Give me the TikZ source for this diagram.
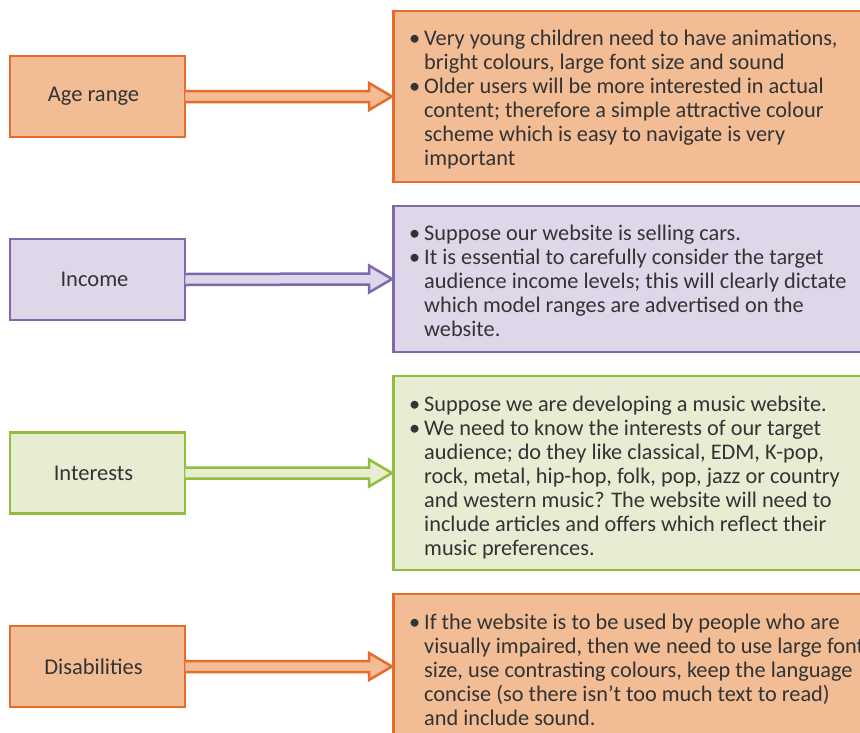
\documentclass[tikz,border=0pt]{standalone}
\usepackage{fontspec}
\setmainfont{Carlito}
\usetikzlibrary{calc}
\definecolor{ofill}{HTML}{F2BC95}
\definecolor{oline}{HTML}{E56C2B}
\definecolor{pfill}{HTML}{DDD7E9}
\definecolor{pline}{HTML}{7F69AC}
\definecolor{gfill}{HTML}{E6EDD2}
\definecolor{gline}{HTML}{93BD3D}
\definecolor{txt}{HTML}{333333}
\newcommand{\bul}{\llap{\textbullet\hspace{4pt}}}
\tikzset{
  lbox/.style={draw=#1line, fill=#1fill, line width=2.5pt, minimum width=175, minimum height=81, inner sep=0pt,
    text=txt, font=\fontsize{22.5}{24}\selectfont},
  rbox/.style={draw=#1line, fill=#1fill, line width=2.5pt, anchor=west, minimum width=490, inner sep=0pt},
  rtext/.style={anchor=north west, align=left, inner sep=0pt, text=txt, font=\fontsize{22.3}{24}\selectfont},
  fatarrow/.style={draw=#1line, fill=#1fill, line width=2.5pt, line join=miter},
}
\newcommand{\fatarr}[3]{%
  \filldraw[fatarrow=#3] ($(#1.east)+(-1,-5.5)$) -- ($(#2.west)+(-23,-5.5)$) -- ($(#2.west)+(-23,-13.5)$) -- (#2.west)
    -- ($(#2.west)+(-23,13.5)$) -- ($(#2.west)+(-23,5.5)$) -- ($(#1.east)+(-1,5.5)$);}
\begin{document}
\begin{tikzpicture}[x=1pt,y=-1pt]
\clip (0,0) rectangle (860,732);
\fill[white] (0,0) rectangle (860,732);
% right boxes
\node[rbox=o, minimum height=171] (r1) at (392,96.5) {};
\node[rbox=p, minimum height=146] (r2) at (392,279) {};
\node[rbox=g, minimum height=194] (r3) at (392,473) {};
\node[rbox=o, minimum height=145] (r4) at (392,666.5) {};
% left boxes
\node[lbox=o] (l1) at (97.5,96.5) {Age range\kern8pt};
\node[lbox=p] (l2) at (97.5,279.5) {Income\kern6pt};
\node[lbox=g] (l3) at (97.5,473) {Interests\kern8pt};
\node[lbox=o] (l4) at (97.5,666.5) {Disabilities\kern8pt};
% arrows
\fatarr{l1}{r1}{o}
\fatarr{l2}{r2}{p}
\fatarr{l3}{r3}{g}
\fatarr{l4}{r4}{o}
% texts
\node[rtext] (t1) at (424,29.5) {\bul Very young children need to have animations,\\
bright colours, large font size and sound\\
\bul Older users will be more interested in actual\\
content; therefore a simple attractive colour\\
scheme which is easy to navigate is very\\
important};
\node[rtext] (t2) at (424,224.5) {\bul Suppose our website is selling cars.\\
\bul It is essential to carefully consider the target\\
audience income levels; this will clearly dictate\\
which model ranges are advertised on the\\
website.};
\node[rtext] (t3) at (424,395.5) {\bul Suppose we are developing a music website.\\
\bul We need to know the interests of our target\\
audience; do they like classical, EDM, K-pop,\\
rock, metal, hip-hop, folk, pop, jazz or country\\
and western music? The website will need to\\
include articles and offers which reflect their\\
music preferences.};
\node[rtext] (t4) at (424,613.5) {\bul If the website is to be used by people who are\\
visually impaired, then we need to use large font\\
size, use contrasting colours, keep the language\\
concise (so there isn’t too much text to read)\\
and include sound.};
\end{tikzpicture}
\end{document}
